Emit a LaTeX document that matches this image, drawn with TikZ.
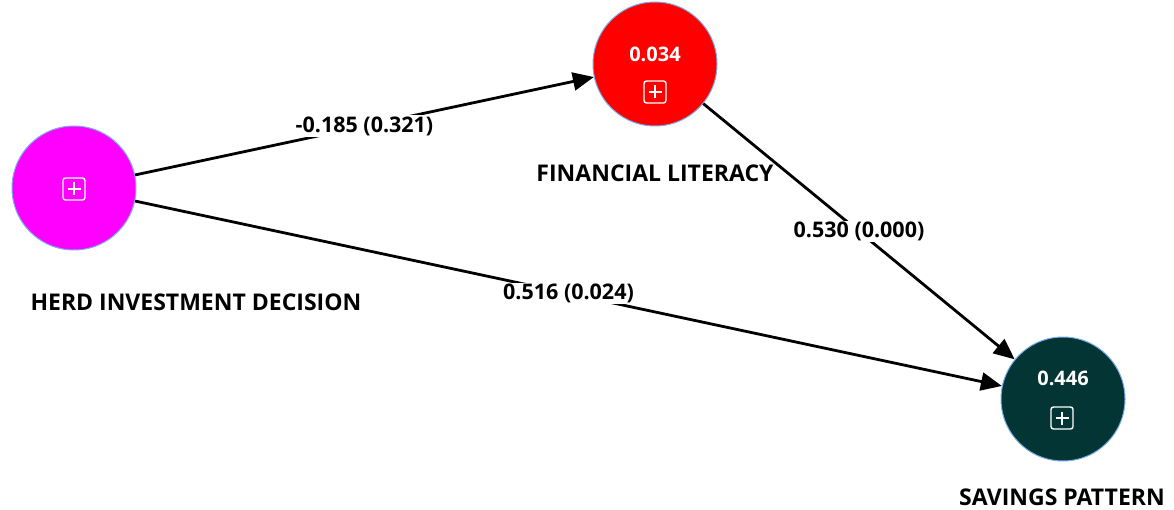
\documentclass[tikz,border=0pt]{standalone}
\usepackage{fontspec}
\setmainfont{Open Sans}
\usetikzlibrary{arrows.meta}

\definecolor{herdcol}{HTML}{FF00FF}
\definecolor{litcol}{HTML}{FF0000}
\definecolor{savcol}{HTML}{033535}
\definecolor{rimcol}{HTML}{78AEEA}

\begin{document}
\begin{tikzpicture}[x=1pt, y=-1pt,
	construct/.style={circle, draw=rimcol, line width=1pt, minimum size=124pt, inner sep=0pt},
	caption/.style={font=\fontsize{23}{27}\selectfont\bfseries},
	coef/.style={font=\fontsize{21.5}{25}\selectfont\bfseries, fill=white, inner sep=1.5pt},
	rsq/.style={text=white, font=\fontsize{20}{24}\selectfont\bfseries},
	relation/.style={line width=2.8pt, -{Triangle[length=21pt, width=18pt]}},
	expand/.pic={
		\draw [white, line width=1.4pt, rounded corners=2.5pt] (-11, -11) rectangle (11, 11);
		\draw [white, line width=1.4pt] (-6.5, 0) -- (6.5, 0) (0, -6.5) -- (0, 6.5);
	}]
\useasboundingbox (0, 0) rectangle (1174, 510);

\foreach \name/\x/\y/\col in {
	herd/74/188/herdcol,
	lit/655/64/litcol,
	sav/1063/399/savcol} {
	\node [construct, fill=\col] (\name) at (\x, \y) {};
}

\node [rsq] (litr) at (655, 54) {0.034};
\node [rsq] (savr) at (1063, 378) {0.446};
\foreach \x/\y in {74/189, 655/92, 1062/418} {
	\pic at (\x, \y) {expand};
}

\node [caption, anchor=west] (herdlab) at (27, 302) {HERD INVESTMENT DECISION};
\node [caption] (litlab) at (655, 173) {FINANCIAL LITERACY};
\node [caption] (savlab) at (1062, 497) {SAVINGS PATTERN};

\draw [relation] (herd) -- node [coef] {-0.185 (0.321)} (lit);
\draw [relation] (herd) -- node [coef] {0.516 (0.024)} (sav);
\draw [relation] (lit) -- node [coef] {0.530 (0.000)} (sav);
\end{tikzpicture}
\end{document}
